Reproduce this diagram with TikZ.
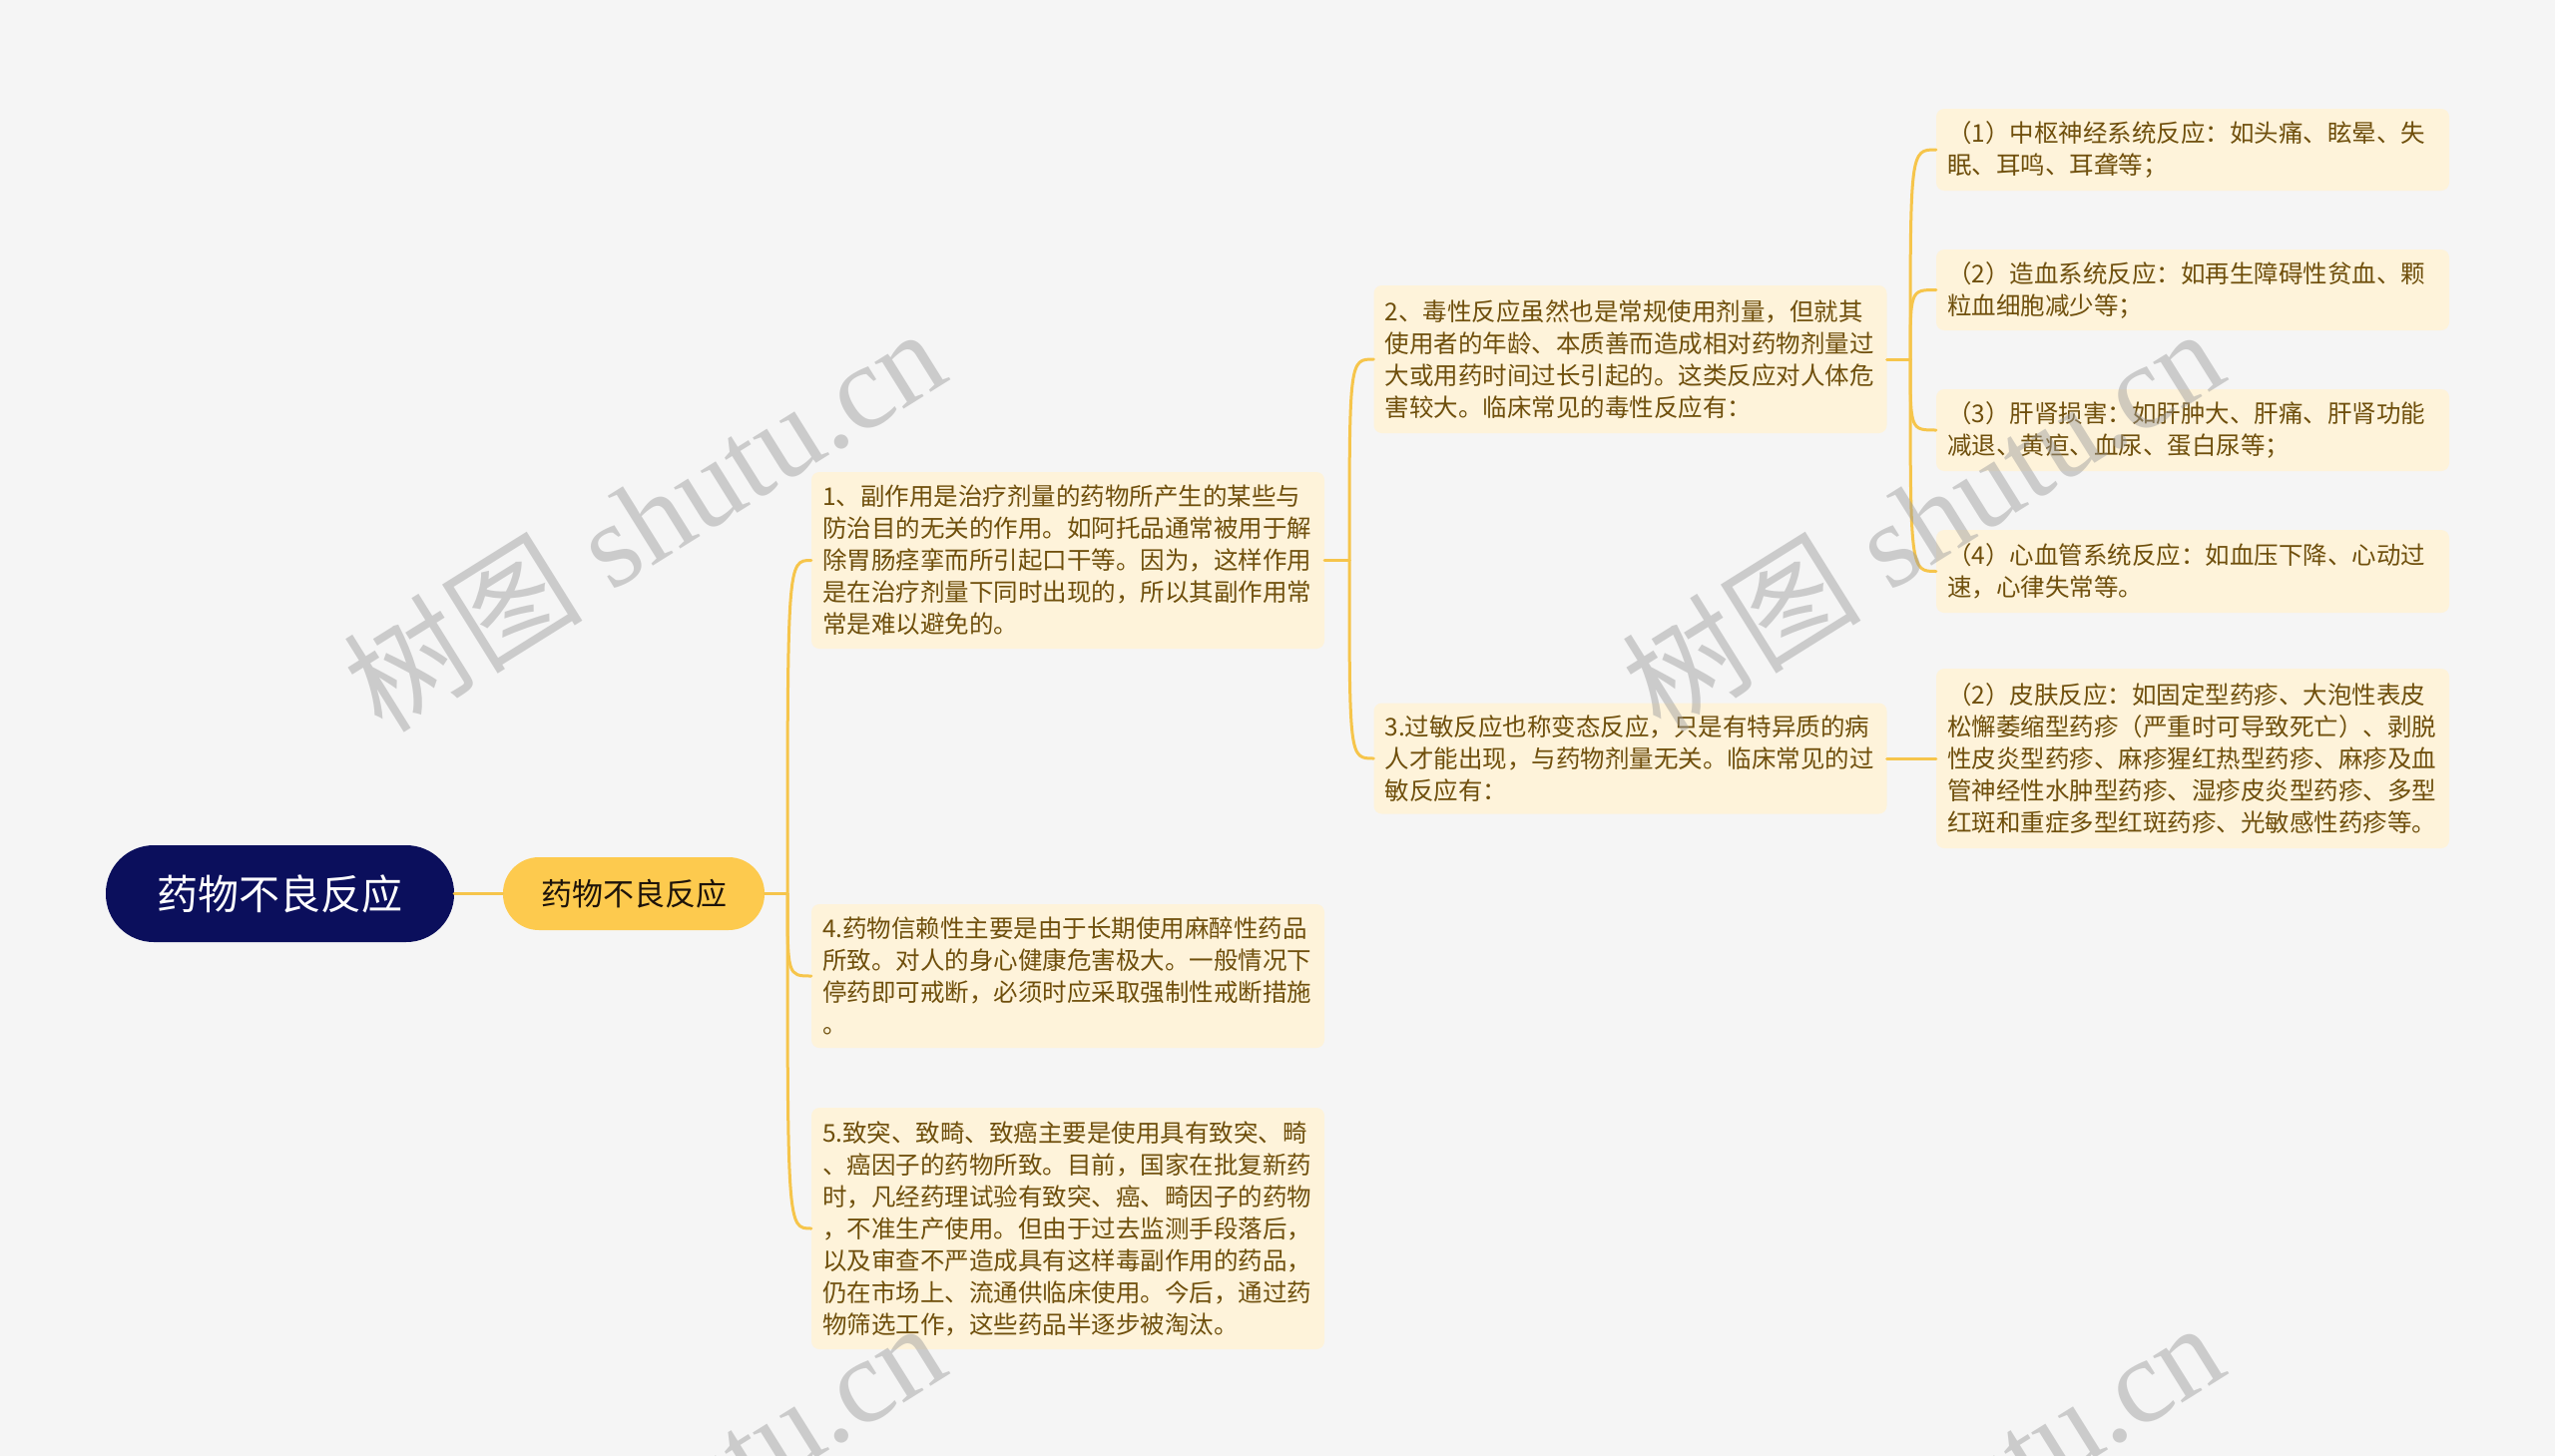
\documentclass[tikz,border=0pt]{standalone}
\usepackage{fontspec}
\setmainfont{Noto Sans CJK SC}
\newfontfamily\wmlatin{Liberation Serif}
\definecolor{bgc}{HTML}{F5F5F5}
\definecolor{rootc}{HTML}{0B0F5C}
\definecolor{lonec}{HTML}{FDCA4E}
\definecolor{boxc}{HTML}{FEF3DA}
\definecolor{txtc}{HTML}{6F4F0C}
\definecolor{linec}{HTML}{F6C54B}
\definecolor{wmc}{HTML}{9A9A9A}
\tikzset{
  rootbox/.style={draw=none, fill=rootc, rounded corners=48pt, minimum width=349pt, minimum height=97pt,
    text=white, font=\fontsize{41}{48}\selectfont, inner sep=8pt},
  onebox/.style={draw=none, fill=lonec, rounded corners=36pt, minimum width=262pt, minimum height=73pt,
    text=black!85!brown, font=\fontsize{31}{36}\selectfont, inner sep=8pt},
  txtbox/.style={draw=none, fill=boxc, rounded corners=8pt, text width=492pt, inner xsep=11pt, inner ysep=0pt,
    align=left, text=txtc, font=\fontsize{24.5}{32}\selectfont},
  conn/.style={draw=linec, line width=3pt, line cap=round},
  wmark/.style={text=wmc, opacity=0.45, rotate=32, font=\fontsize{120}{122}\selectfont, inner sep=0pt}
}
\begin{document}
\begin{tikzpicture}[x=1pt,y=-1pt]
\path[use as bounding box, fill=bgc] (0,0) rectangle (2560,1459);

% nodes
\node[rootbox] (root) at (280.5,895.5) {药物不良反应};
\node[onebox] (lone) at (635,895.5) {药物不良反应};

\node[txtbox, minimum height=177pt] (c1) at (1070,561.5) {1、副作用是治疗剂量的药物所产生的某些与\\防治目的无关的作用。如阿托品通常被用于解\\除胃肠痉挛而所引起口干等。因为，这样作用\\是在治疗剂量下同时出现的，所以其副作用常\\常是难以避免的。};
\node[txtbox, minimum height=144pt] (c4) at (1070,978) {4.药物信赖性主要是由于长期使用麻醉性药品\\所致。对人的身心健康危害极大。一般情况下\\停药即可戒断，必须时应采取强制性戒断措施\\。};
\node[txtbox, minimum height=242pt] (c5) at (1070,1231) {5.致突、致畸、致癌主要是使用具有致突、畸\\、癌因子的药物所致。目前，国家在批复新药\\时，凡经药理试验有致突、癌、畸因子的药物\\，不准生产使用。但由于过去监测手段落后，\\以及审查不严造成具有这样毒副作用的药品，\\仍在市场上、流通供临床使用。今后，通过药\\物筛选工作，这些药品半逐步被淘汰。};

\node[txtbox, minimum height=148pt] (c2) at (1633.5,360) {2、毒性反应虽然也是常规使用剂量，但就其\\使用者的年龄、本质善而造成相对药物剂量过\\大或用药时间过长引起的。这类反应对人体危\\害较大。临床常见的毒性反应有：};
\node[txtbox, minimum height=111pt] (c3) at (1633.5,760) {3.过敏反应也称变态反应，只是有特异质的病\\人才能出现，与药物剂量无关。临床常见的过\\敏反应有：};

\node[txtbox, minimum height=82pt] (l1) at (2197,150) {（1）中枢神经系统反应：如头痛、眩晕、失\\眠、耳鸣、耳聋等；};
\node[txtbox, minimum height=81pt] (l2) at (2197,290.5) {（2）造血系统反应：如再生障碍性贫血、颗\\粒血细胞减少等；};
\node[txtbox, minimum height=82pt] (l3) at (2197,431) {（3）肝肾损害：如肝肿大、肝痛、肝肾功能\\减退、黄疸、血尿、蛋白尿等；};
\node[txtbox, minimum height=83pt] (l4) at (2197,572.5) {（4）心血管系统反应：如血压下降、心动过\\速，心律失常等。};
\node[txtbox, minimum height=180pt] (l5) at (2197,760) {（2）皮肤反应：如固定型药疹、大泡性表皮\\松懈萎缩型药疹（严重时可导致死亡）、剥脱\\性皮炎型药疹、麻疹猩红热型药疹、麻疹及血\\管神经性水肿型药疹、湿疹皮炎型药疹、多型\\红斑和重症多型红斑药疹、光敏感性药疹等。};

% junctions
\coordinate (j1) at (789,895.5);
\coordinate (j2) at (1352,561.5);
\coordinate (j3) at (1914,360);

% connectors
\draw[conn] (root.east) -- (lone.west);
\draw[conn] (lone.east) -- (j1);
\draw[conn] (j1) .. controls (789,561.5) and (789,561.5) .. (c1.west);
\draw[conn] (j1) .. controls (789,978) and (789,978) .. (c4.west);
\draw[conn] (j1) .. controls (789,1231) and (789,1231) .. (c5.west);

\draw[conn] (c1.east) -- (j2);
\draw[conn] (j2) .. controls (1352,360) and (1352,360) .. (c2.west);
\draw[conn] (j2) .. controls (1352,760) and (1352,760) .. (c3.west);

\draw[conn] (c2.east) -- (j3);
\draw[conn] (j3) .. controls (1914,150) and (1914,150) .. (l1.west);
\draw[conn] (j3) .. controls (1914,290.5) and (1914,290.5) .. (l2.west);
\draw[conn] (j3) .. controls (1914,431) and (1914,431) .. (l3.west);
\draw[conn] (j3) .. controls (1914,572.5) and (1914,572.5) .. (l4.west);

\draw[conn] (c3.east) -- (l5.west);

% watermarks
\begin{scope}
\clip (0,0) rectangle (2560,1459);
\node[wmark] (wm1) at (645,519) {树图{\wmlatin{} shutu.cn}};
\node[wmark] (wm2) at (1926,519) {树图{\wmlatin{} shutu.cn}};
\node[wmark] (wm3) at (645,1515) {树图{\wmlatin{} shutu.cn}};
\node[wmark] (wm4) at (1926,1515) {树图{\wmlatin{} shutu.cn}};
\end{scope}
\end{tikzpicture}
\end{document}
